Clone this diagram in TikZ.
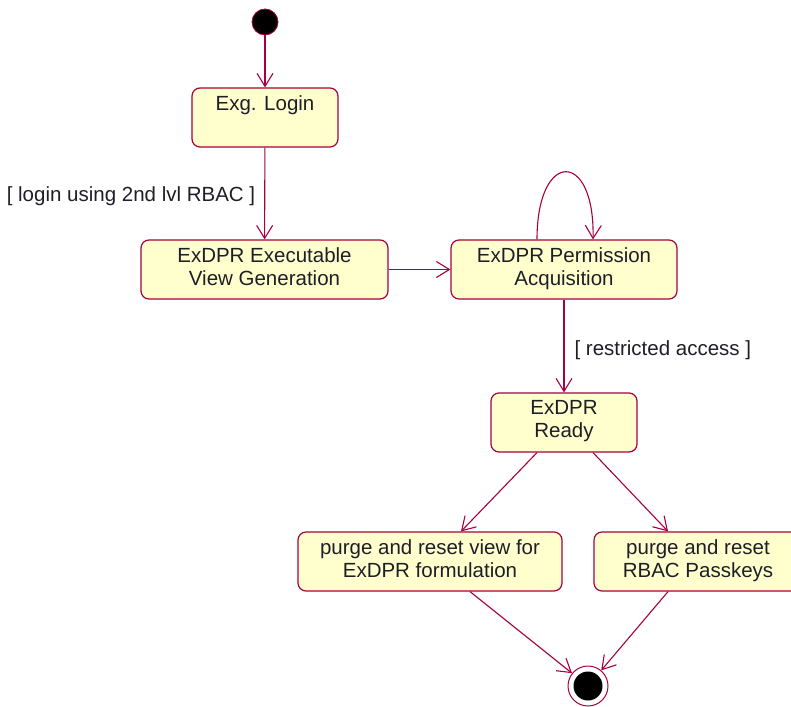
\documentclass[tikz,border=0pt]{standalone}
\usepackage{fontspec}
\setmainfont{Liberation Sans}
\usetikzlibrary{arrows.meta}
\definecolor{umlred}{RGB}{165,0,65}
\definecolor{umlfill}{RGB}{255,255,206}
\definecolor{umltext}{RGB}{30,30,40}

\begin{document}
\begin{tikzpicture}[x=1pt,y=-1pt,
  state/.style={draw=umlred, fill=umlfill, rounded corners=8pt, line width=1.2pt,
    align=center, font=\fontsize{20.5}{23}\selectfont, text=umltext,
    inner sep=0pt, minimum height=59pt, text depth=6.5pt},
  flow/.style={draw=umlred, line width=1.1pt,
    -{Straight Barb[length=13pt,width=16pt]}},
  guard/.style={font=\fontsize{20.5}{23}\selectfont, text=umltext, inner sep=0pt}]
\useasboundingbox (0,0) rectangle (791,706);
\clip (0,0) rectangle (791,706);

% states
\node[circle, fill=black, draw=umlred, line width=0.8pt, minimum size=26pt, inner sep=0pt] (start) at (265,22) {};
\node[state, minimum width=146pt] (login) at (265,117.5) {Exg. Login\\\mbox{}};
\node[state, minimum width=247pt] (exec) at (264.5,269.5) {ExDPR Executable\\View Generation};
\node[state, minimum width=226pt] (perm) at (564,269.5) {ExDPR Permission\\Acquisition};
\node[state, minimum width=146pt] (ready) at (564,422.5) {ExDPR\\Ready};
\node[state, minimum width=264pt] (pview) at (430,561.5) {purge and reset view for\\ExDPR formulation};
\node[state, minimum width=208pt] (prbac) at (698,561.5) {purge and reset\\RBAC Passkeys};
\node[circle, draw=umlred, fill=white, line width=1pt, minimum size=40pt, inner sep=0pt,
  path picture={\fill[black] (path picture bounding box.center) circle (14.5pt);}] (final) at (588,686) {};

% transitions
\draw[flow] (start) -- (login);
\draw[flow] (login) -- node[guard, anchor=east, xshift=-9pt, yshift=-3pt] {[ login using 2nd lvl RBAC ]} (exec);
\draw[flow] (exec) -- (perm);
\draw[flow] ([xshift=-27pt]perm.north) .. controls +(0,-90) and +(2,-90) .. ([xshift=29pt]perm.north);
\draw[flow] (perm) -- node[guard, anchor=west, xshift=10pt, yshift=-4pt] {[ restricted access ]} (ready);
\draw[flow] ([xshift=-27pt]ready.south) -- ([xshift=31pt]pview.north);
\draw[flow] ([xshift=29pt]ready.south) -- ([xshift=-30pt]prbac.north);
\draw[flow] ([xshift=40pt]pview.south) -- (final);
\draw[flow] ([xshift=-30pt]prbac.south) -- (final);
\end{tikzpicture}
\end{document}
